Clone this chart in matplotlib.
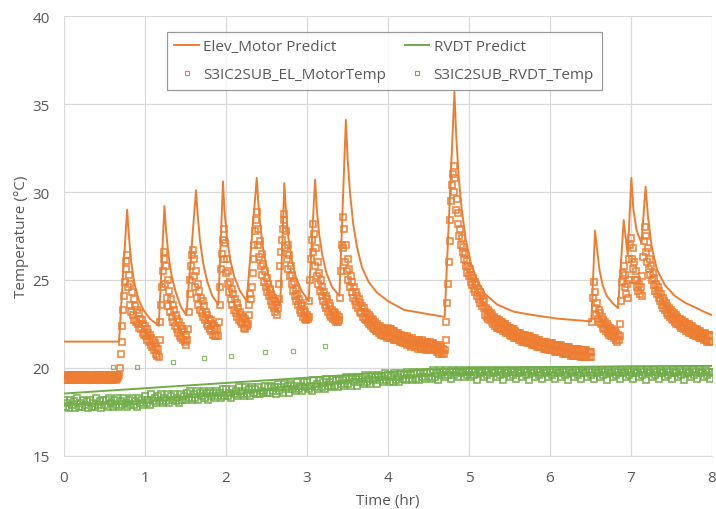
import numpy as np
import matplotlib
matplotlib.use("Agg")
import matplotlib.pyplot as plt
from matplotlib.lines import Line2D

ORANGE = "#ED7D31"
GREEN = "#70AD47"
TEXT = "#595959"

# Elev_Motor Predict (line)
elev_pred_time = [0.00, 0.68, 0.73, 0.78, 0.80, 0.83, 0.87, 0.92, 0.98, 1.06, 1.17,
                  1.24, 1.26, 1.29, 1.33, 1.38, 1.44, 1.51,
                  1.63, 1.65, 1.68, 1.72, 1.77, 1.83, 1.905,
                  1.963, 1.98, 2.01, 2.05, 2.10, 2.17, 2.255,
                  2.38, 2.40, 2.43, 2.47, 2.52, 2.59, 2.67,
                  2.72, 2.74, 2.77, 2.81, 2.86, 2.93, 3.02,
                  3.10, 3.12, 3.15, 3.19, 3.24, 3.31, 3.40,
                  3.48, 3.50, 3.53, 3.57, 3.62, 3.68, 3.76, 3.86, 4.00, 4.20, 4.45, 4.70,
                  4.82, 4.84, 4.87, 4.91, 4.96, 5.02, 5.10, 5.20, 5.35, 5.55, 5.80, 6.10, 6.51,
                  6.556, 6.58, 6.61, 6.65, 6.70, 6.77, 6.84,
                  6.91, 6.96, 7.004, 7.03, 7.07, 7.13,
                  7.18, 7.21, 7.255, 7.32, 7.42, 7.54, 7.67, 7.79, 7.90, 8.00]
elev_pred_temp = [21.5, 21.5, 25.4, 29.0, 27.6, 26.0, 24.8, 23.9, 23.3, 22.8, 22.4,
                  29.2, 27.8, 26.4, 25.2, 24.3, 23.5, 23.0,
                  30.1, 28.7, 27.2, 25.9, 24.9, 24.1, 23.6,
                  30.6, 29.0, 27.5, 26.2, 25.2, 24.4, 23.8,
                  30.8, 29.3, 27.8, 26.4, 25.3, 24.3, 23.6,
                  30.5, 28.9, 27.4, 26.2, 25.2, 24.4, 23.8,
                  30.7, 29.1, 27.6, 26.4, 25.4, 24.6, 24.1,
                  34.1, 32.0, 30.0, 28.2, 26.8, 25.7, 24.9, 24.3, 23.8, 23.3, 23.1, 22.9,
                  35.7, 33.4, 31.0, 29.0, 27.3, 26.0, 25.0, 24.2, 23.6, 23.2, 23.0, 22.8, 22.65,
                  27.8, 26.8, 25.6, 24.7, 24.1, 23.7, 23.4,
                  28.4, 26.4, 30.8, 29.0, 27.8, 27.1,
                  30.3, 28.6, 26.9, 25.6, 24.7, 24.1, 23.7, 23.45, 23.2, 23.0]

# S3IC2SUB_EL_MotorTemp (measured every 0.01 hr, one row = 0.1 hr)
motor_temp = [
    19.5, 19.3, 19.6, 19.4, 19.3, 19.6, 19.5, 19.3, 19.4, 19.6,
    19.3, 19.5, 19.6, 19.3, 19.4, 19.6, 19.3, 19.5, 19.4, 19.6,
    19.4, 19.3, 19.6, 19.5, 19.3, 19.6, 19.4, 19.5, 19.3, 19.6,
    19.5, 19.3, 19.6, 19.4, 19.3, 19.5, 19.6, 19.3, 19.4, 19.6,
    19.3, 19.5, 19.6, 19.4, 19.3, 19.6, 19.5, 19.3, 19.6, 19.4,
    19.3, 19.6, 19.5, 19.3, 19.4, 19.6, 19.3, 19.5, 19.6, 19.4,
    19.3, 19.6, 19.4, 19.5, 19.3, 19.6, 19.4, 19.5, 19.6, 20.0,
    20.8, 21.5, 22.4, 23.3, 24.1, 24.9, 25.6, 26.1, 26.4, 24.6,
    25.3, 23.6, 24.8, 23.2, 24.3, 23.0, 23.9, 22.7, 23.5, 22.6,
    23.3, 22.5, 23.1, 22.3, 22.8, 22.2, 22.7, 22.0, 22.5, 21.9,
    22.4, 21.8, 22.2, 21.6, 22.0, 21.5, 21.9, 21.3, 21.7, 21.2,
    21.6, 21.0, 21.4, 20.8, 21.2, 20.7, 21.1, 20.6, 21.6, 22.6,
    23.6, 24.6, 25.5, 26.2, 26.6, 24.8, 25.8, 24.0, 25.0, 23.5,
    24.4, 23.2, 23.9, 22.9, 23.6, 22.6, 23.3, 22.4, 23.0, 22.2,
    22.8, 22.0, 22.6, 21.8, 22.4, 21.7, 22.2, 21.6, 22.1, 21.5,
    21.9, 21.3, 21.6, 22.2, 23.2, 24.2, 25.0, 25.8, 26.4, 26.7,
    25.2, 26.2, 24.6, 25.5, 24.0, 24.8, 23.6, 24.4, 23.3, 24.0,
    23.1, 23.8, 22.9, 23.5, 22.7, 23.2, 22.5, 23.0, 22.4, 22.8,
    22.2, 22.7, 22.1, 22.5, 21.9, 22.4, 21.8, 22.3, 21.8, 22.2,
    21.8, 22.6, 23.6, 24.6, 25.6, 26.5, 27.3, 27.9, 26.2, 27.1,
    25.4, 26.2, 24.8, 25.5, 24.3, 24.9, 23.9, 24.5, 23.6, 24.2,
    23.3, 23.9, 23.1, 23.7, 22.9, 23.4, 22.7, 23.2, 22.6, 23.0,
    22.5, 22.9, 22.3, 22.8, 22.2, 22.6, 22.4, 22.5, 23.0, 23.6,
    24.2, 23.9, 24.6, 25.4, 26.2, 27.0, 27.8, 28.4, 28.85, 27.0,
    27.9, 26.3, 27.2, 25.8, 26.5, 25.3, 25.9, 24.9, 25.5, 24.6,
    25.1, 24.3, 24.8, 24.1, 24.5, 23.8, 24.2, 23.6, 24.0, 23.4,
    23.8, 23.2, 23.6, 23.0, 23.4, 23.9, 24.8, 25.8, 26.6, 27.3,
    27.9, 28.4, 28.75, 26.8, 27.8, 26.2, 27.0, 25.6, 26.4, 25.2,
    25.8, 24.8, 25.3, 24.4, 24.9, 24.1, 24.5, 23.8, 24.2, 23.6,
    23.9, 23.3, 23.7, 23.1, 23.5, 22.9, 23.3, 22.8, 23.2, 22.7,
    23.0, 22.8, 22.9, 23.8, 25.0, 26.2, 27.3, 28.2, 26.6, 27.6,
    25.8, 26.8, 25.2, 26.0, 24.8, 25.4, 24.4, 25.0, 24.1, 24.6,
    23.8, 24.3, 23.6, 24.1, 23.4, 23.9, 23.2, 23.7, 23.0, 23.5,
    22.9, 23.3, 22.8, 23.2, 22.7, 23.1, 22.6, 23.0, 22.6, 22.9,
    22.7, 24.0, 25.5, 27.0, 28.56, 26.8, 27.9, 26.0, 27.0, 25.5,
    26.2, 25.0, 25.6, 24.6, 25.2, 24.3, 24.9, 24.0, 24.6, 23.8,
    24.3, 23.6, 24.1, 23.4, 23.9, 23.2, 23.7, 23.1, 23.5, 22.9,
    23.4, 22.8, 23.2, 22.7, 23.1, 22.6, 23.0, 22.5, 22.9, 22.4,
    22.8, 22.3, 22.7, 22.2, 22.6, 22.1, 22.5, 22.1, 22.4, 22.0,
    22.4, 21.9, 22.3, 21.9, 22.2, 21.8, 22.2, 21.8, 22.1, 21.7,
    22.3, 21.8, 22.2, 21.7, 22.2, 21.7, 22.1, 21.6, 22.1, 21.6,
    22.0, 21.6, 22.0, 21.6, 21.9, 21.5, 21.9, 21.5, 21.8, 21.4,
    21.8, 21.4, 21.7, 21.3, 21.8, 21.4, 21.7, 21.3, 21.6, 21.2,
    21.7, 21.3, 21.6, 21.2, 21.6, 21.3, 21.5, 21.1, 21.6, 21.2,
    21.5, 21.1, 21.6, 21.2, 21.5, 21.1, 21.4, 21.0, 21.5, 21.1,
    21.4, 21.0, 21.5, 21.1, 21.4, 21.0, 21.4, 21.1, 21.3, 21.0,
    21.3, 20.9, 21.2, 20.8, 21.3, 20.9, 21.2, 20.8, 21.1, 20.8,
    21.0, 21.6, 22.6, 23.7, 24.8, 26.0, 27.2, 28.4, 29.5, 30.4,
    31.0, 31.5, 30.0, 30.8, 29.0, 29.6, 28.2, 28.8, 27.5, 27.9,
    27.0, 27.4, 26.6, 26.9, 26.2, 26.5, 25.8, 26.1, 25.4, 25.8,
    25.2, 25.6, 24.9, 25.3, 24.7, 25.1, 24.5, 24.9, 24.3, 24.7,
    24.1, 24.5, 23.9, 24.3, 23.7, 24.1, 23.5, 23.9, 23.4, 23.8,
    23.0, 23.4, 22.9, 23.3, 22.8, 23.2, 22.7, 23.1, 22.6, 23.0,
    22.5, 22.9, 22.4, 22.8, 22.3, 22.8, 22.3, 22.7, 22.2, 22.6,
    22.2, 22.6, 22.1, 22.5, 22.1, 22.5, 22.0, 22.4, 22.0, 22.3,
    21.9, 22.3, 21.8, 22.2, 21.8, 22.2, 21.7, 22.1, 21.7, 22.0,
    21.7, 22.0, 21.6, 22.0, 21.6, 21.9, 21.5, 21.9, 21.5, 21.9,
    21.5, 21.8, 21.4, 21.8, 21.4, 21.8, 21.4, 21.7, 21.3, 21.7,
    21.3, 21.7, 21.3, 21.6, 21.2, 21.6, 21.2, 21.6, 21.2, 21.5,
    21.2, 21.5, 21.1, 21.5, 21.1, 21.5, 21.1, 21.4, 21.0, 21.4,
    21.0, 21.4, 21.0, 21.4, 21.0, 21.3, 20.9, 21.3, 20.9, 21.3,
    20.9, 21.3, 20.9, 21.3, 20.9, 21.2, 20.8, 21.2, 20.8, 21.2,
    20.8, 21.2, 20.8, 21.2, 20.8, 21.1, 20.7, 21.1, 20.7, 21.1,
    20.7, 21.1, 20.7, 21.1, 20.7, 21.1, 20.7, 21.0, 20.6, 21.0,
    20.6, 21.0, 20.6, 21.0, 20.6, 21.0, 20.6, 20.9, 20.6, 20.9,
    20.6, 20.9, 22.6, 24.0, 24.9, 23.4, 24.3, 23.0, 23.7, 22.8,
    23.3, 22.6, 23.1, 22.5, 22.9, 22.3, 22.7, 22.2, 22.6, 22.1,
    22.5, 22.0, 22.4, 21.9, 22.3, 21.8, 22.2, 21.8, 22.1, 21.7,
    22.1, 21.6, 22.0, 21.5, 21.9, 21.6, 21.8, 22.5, 23.8, 24.9,
    25.4, 25.8, 24.6, 25.3, 24.2, 24.8, 24.0, 25.0, 26.2, 27.0,
    27.4, 26.2, 26.8, 25.6, 26.0, 25.0, 25.5, 24.6, 25.0, 24.4,
    24.8, 24.2, 24.6, 24.1, 25.2, 26.3, 27.2, 28.0, 26.6, 27.5,
    26.0, 26.8, 25.6, 26.2, 25.3, 25.8, 25.0, 25.4, 24.7, 25.1,
    24.4, 24.8, 24.2, 24.6, 24.0, 24.4, 23.8, 24.2, 23.6, 24.0,
    23.4, 23.8, 23.3, 23.7, 23.1, 23.5, 23.0, 23.4, 22.9, 23.3,
    22.8, 23.2, 22.7, 23.1, 22.6, 23.0, 22.5, 22.9, 22.5, 22.8,
    22.4, 22.8, 22.3, 22.7, 22.3, 22.6, 22.2, 22.6, 22.1, 22.5,
    22.1, 22.5, 22.0, 22.4, 22.0, 22.4, 21.9, 22.3, 21.9, 22.2,
    21.8, 22.2, 21.8, 22.1, 21.7, 22.1, 21.7, 22.0, 21.7, 22.0,
    21.6, 22.0, 21.6, 21.9, 21.5, 21.9, 21.5, 21.9, 21.5, 21.8,
    21.5]
motor_time = np.round(np.arange(len(motor_temp)) * 0.01, 2)

# RVDT Predict (line)
rvdt_pred_time = [0.0, 1.0, 2.0, 3.0, 4.0, 4.5, 5.0, 6.0, 7.0, 8.0]
rvdt_pred_temp = [18.55, 18.85, 19.15, 19.45, 19.75, 19.92, 20.0, 20.05, 20.1, 20.12]

# S3IC2SUB_RVDT_Temp (measured every 0.02 hr, one row = 0.5 hr)
rvdt_temp = [
    18.2, 17.8, 18.0, 17.7, 18.2, 17.9, 18.1, 17.7, 18.3, 17.8, 18.0, 17.8, 18.2, 17.9, 18.1, 17.7, 18.2, 17.8, 18.0, 17.8, 18.3, 17.9, 18.1, 17.7, 18.2,
    17.9, 18.2, 17.8, 18.3, 18.0, 17.8, 18.2, 17.9, 18.3, 17.8, 18.1, 17.9, 18.3, 18.0, 17.8, 18.2, 17.9, 18.3, 17.9, 18.1, 17.8, 18.3, 18.0, 18.2, 17.9,
    18.4, 18.0, 18.2, 17.9, 18.5, 18.1, 18.3, 18.0, 18.4, 18.1, 18.5, 18.0, 18.3, 18.1, 18.5, 18.0, 18.4, 18.2, 18.5, 18.1, 18.3, 18.0, 18.5, 18.2, 18.4,
    18.2, 18.6, 18.3, 18.7, 18.2, 18.5, 18.3, 18.7, 18.2, 18.6, 18.4, 18.7, 18.3, 18.6, 18.2, 18.7, 18.4, 18.6, 18.3, 18.7, 18.4, 18.6, 18.3, 18.8, 18.4,
    18.8, 18.4, 18.6, 18.3, 18.8, 18.5, 18.7, 18.4, 18.9, 18.5, 18.7, 18.4, 18.9, 18.5, 18.8, 18.4, 18.9, 18.6, 18.8, 18.5, 18.9, 18.5, 18.7, 18.6, 19.0,
    18.6, 18.9, 18.6, 19.0, 18.7, 18.9, 18.5, 19.1, 18.7, 18.9, 18.6, 19.1, 18.8, 19.0, 18.6, 19.1, 18.8, 19.0, 18.7, 19.2, 18.8, 19.0, 18.7, 19.2, 18.9,
    19.2, 18.8, 19.0, 18.7, 19.3, 18.9, 19.1, 18.8, 19.3, 18.9, 19.2, 18.8, 19.4, 19.0, 19.2, 18.9, 19.4, 19.0, 19.3, 18.9, 19.4, 19.1, 19.3, 19.0, 19.5,
    19.1, 19.4, 19.0, 19.5, 19.2, 19.4, 19.0, 19.5, 19.2, 19.4, 19.1, 19.6, 19.2, 19.4, 19.1, 19.6, 19.3, 19.5, 19.1, 19.6, 19.3, 19.5, 19.2, 19.7, 19.3,
    19.6, 19.2, 19.5, 19.2, 19.7, 19.3, 19.5, 19.2, 19.7, 19.4, 19.6, 19.3, 19.8, 19.4, 19.6, 19.3, 19.8, 19.4, 19.7, 19.3, 19.8, 19.5, 19.7, 19.4, 19.8,
    19.5, 19.8, 19.4, 19.9, 19.5, 19.7, 19.3, 19.9, 19.6, 19.8, 19.5, 19.9, 19.6, 19.8, 19.4, 19.9, 19.6, 19.8, 19.5, 19.9, 19.7, 19.8, 19.5, 19.9, 19.6,
    19.8, 19.5, 19.9, 19.6, 19.8, 19.3, 19.9, 19.7, 19.8, 19.5, 19.9, 19.6, 19.8, 19.4, 19.9, 19.7, 19.8, 19.5, 19.9, 19.6, 19.8, 19.3, 19.9, 19.7, 19.8,
    19.5, 19.9, 19.6, 19.8, 19.4, 19.9, 19.7, 19.8, 19.5, 19.9, 19.6, 19.8, 19.3, 19.9, 19.7, 19.8, 19.5, 19.9, 19.6, 19.8, 19.4, 19.9, 19.7, 19.8, 19.5,
    19.9, 19.6, 19.8, 19.4, 19.9, 19.7, 19.8, 19.5, 19.9, 19.6, 19.8, 19.3, 19.9, 19.7, 19.8, 19.5, 19.9, 19.6, 19.8, 19.4, 19.9, 19.7, 19.8, 19.5, 19.9,
    19.6, 19.8, 19.4, 19.9, 19.7, 19.8, 19.5, 19.9, 19.6, 19.8, 19.3, 19.9, 19.7, 19.8, 19.5, 19.9, 19.6, 19.8, 19.4, 19.9, 19.7, 19.8, 19.5, 19.9, 19.6,
    19.8, 19.4, 19.9, 19.7, 19.8, 19.5, 19.9, 19.6, 19.8, 19.3, 19.9, 19.7, 19.8, 19.5, 19.9, 19.6, 19.8, 19.4, 19.9, 19.7, 19.8, 19.5, 19.9, 19.6, 19.8,
    19.4, 19.9, 19.7, 19.8, 19.5, 19.9, 19.6, 19.8, 19.3, 19.9, 19.7, 19.8, 19.5, 19.9, 19.6, 19.8, 19.4, 19.9, 19.7, 19.8, 19.5, 19.9, 19.6, 19.8, 19.4,
    19.8]
rvdt_time = np.round(np.arange(len(rvdt_temp)) * 0.02, 2)

# a few stray RVDT readings above the band
rvdt_stray_time = [0.60, 0.90, 1.35, 1.73, 2.06, 2.48, 2.83, 3.22]
rvdt_stray_temp = [20.07, 20.07, 20.32, 20.55, 20.68, 20.89, 20.95, 21.23]

plt.rcParams['font.family'] = ['Open Sans', 'DejaVu Sans']

fig = plt.figure(figsize=(7.16, 5.10), dpi=100)
ax = fig.add_axes([64 / 716, 1 - 457 / 510, 648 / 716, 440 / 510])

ax.plot(elev_pred_time, elev_pred_temp, color=ORANGE, lw=1.4, zorder=2)
ax.plot(rvdt_pred_time, rvdt_pred_temp, color=GREEN, lw=1.4, zorder=2)

sq = dict(ls='none', marker='s', mfc='none', zorder=3)
ax.plot(motor_time, motor_temp, mec=ORANGE, ms=4.5, mew=1.2, alpha=0.9, **sq)
ax.plot(rvdt_time, rvdt_temp, mec=GREEN, ms=4.5, mew=1.2, alpha=0.9, **sq)
ax.plot(rvdt_stray_time, rvdt_stray_temp, mec=GREEN, ms=3.5, mew=0.9, alpha=0.8, **sq)

ax.set_xlim(0, 8)
ax.set_ylim(15, 40)
ax.set_xticks(range(0, 9))
ax.set_yticks(range(15, 41, 5))
ax.grid(True, color='#D9D9D9', lw=0.9)
ax.set_axisbelow(True)
for s in ['top', 'right', 'left']:
    ax.spines[s].set_visible(False)
ax.spines['bottom'].set_color('#D9D9D9')
ax.tick_params(length=0, colors=TEXT, labelsize=11, pad=10)
ax.set_xlabel('Time (hr)', color=TEXT, fontsize=11, labelpad=6)
ax.set_ylabel('Temperature (°C)', color=TEXT, fontsize=11, labelpad=3)

handles = [Line2D([], [], color=ORANGE, lw=1.4),
           Line2D([], [], ls='none', marker='s', ms=3.5, mfc='none', mec=ORANGE, mew=0.8),
           Line2D([], [], color=GREEN, lw=1.4),
           Line2D([], [], ls='none', marker='s', ms=3.5, mfc='none', mec=GREEN, mew=0.8)]
labels = ['Elev_Motor Predict', 'S3IC2SUB_EL_MotorTemp', 'RVDT Predict', 'S3IC2SUB_RVDT_Temp']
leg = ax.legend(handles, labels, ncol=2, loc='upper center', bbox_to_anchor=(0.494, 0.964),
                fontsize=11, frameon=True, fancybox=False, edgecolor='#808080',
                handlelength=1.6, handletextpad=0.3, columnspacing=1.2, borderpad=0.5,
                labelspacing=0.85, borderaxespad=0)
leg.get_frame().set_linewidth(0.9)
for t in leg.get_texts():
    t.set_color(TEXT)

fig.savefig('out.png', dpi=100)
